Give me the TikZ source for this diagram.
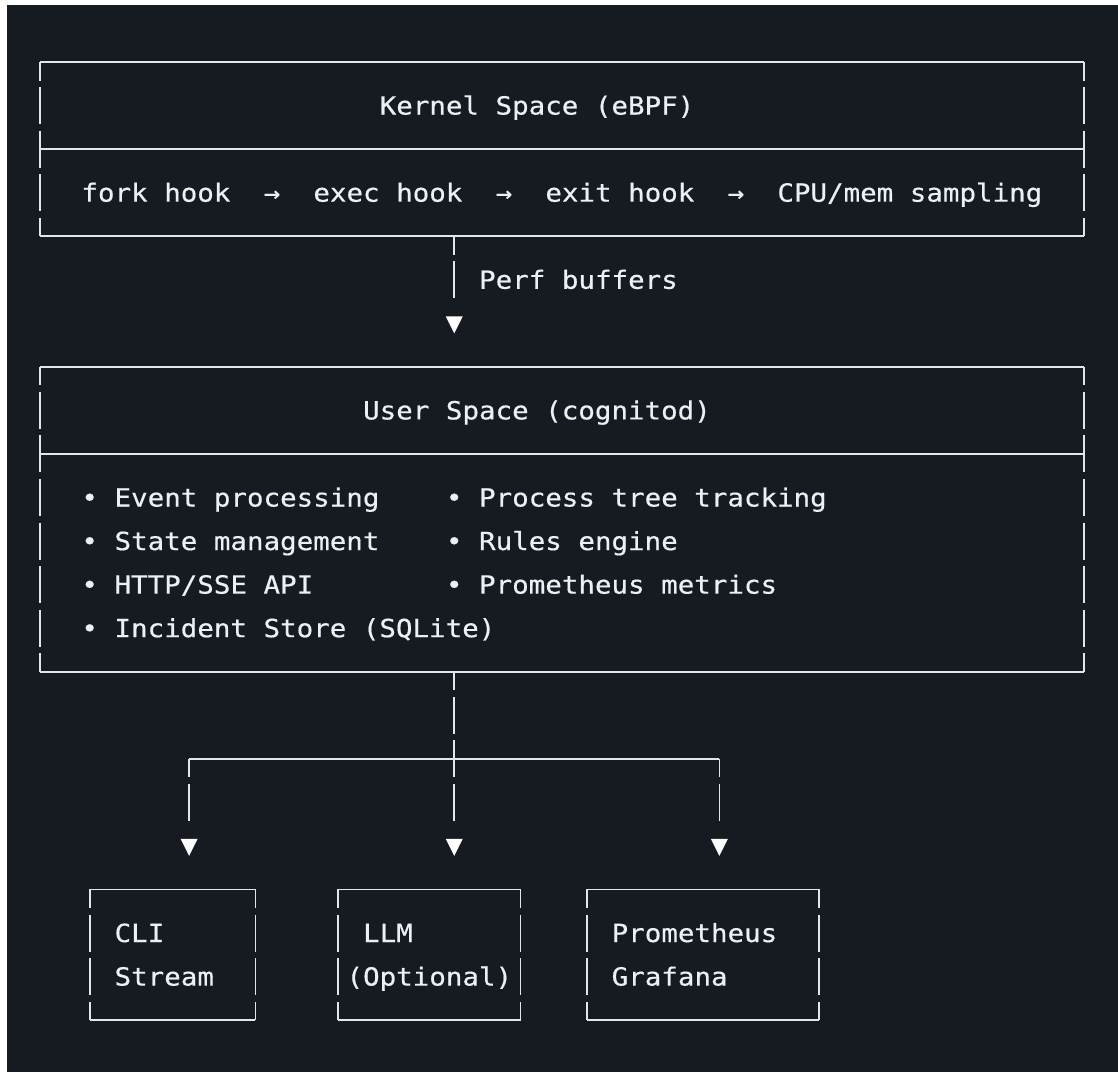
\documentclass[tikz,border=0pt]{standalone}
\usepackage{fontspec}
\newfontfamily\mono[FakeStretch=1.1,FakeBold=0.5]{DejaVu Sans Mono}
\usetikzlibrary{fit}
\definecolor{bg}{RGB}{22,27,34}
\definecolor{fg}{RGB}{225,230,235}
\definecolor{txt}{RGB}{236,240,244}
\newcommand\abox[5]{%
  \path ({cx(#2)},{ry(#3)}) coordinate (#1-nw) ({cx(#4)},{ry(#5)}) coordinate (#1-se);
  \node[boxarea, fit=(#1-nw)(#1-se)] (#1) {};
  \draw[hl] (#1.north west) -- (#1.north east);
  \draw[hl] (#1.south west) -- (#1.south east);
  \draw[vl] (#1.north west) -- (#1.south west);
  \draw[vl] (#1.north east) -- (#1.south east);
}
\begin{document}
\begin{tikzpicture}[x=1pt,y=-1pt,
  declare function={cx(\c)=40+16.57*\c; cl(\c)=31.72+16.57*\c; ry(\r)=62+43.55*\r; by(\r)=71+43.55*\r;},
  hl/.style={draw=fg, line width=1.7pt},
  vl/.style={draw=fg, line width=1.7pt, dash pattern=on 37pt off 6.55pt, dash phase=18.5pt},
  boxarea/.style={inner sep=0pt, outer sep=0pt},
  lbl/.style={anchor=base west, inner sep=0pt, outer sep=0pt, text=txt, font={\mono\fontsize{25pt}{30pt}\selectfont}},
  tip/.style={inner sep=0pt, outer sep=0pt, minimum width=17pt, minimum height=17pt,
    path picture={\fill[white] (path picture bounding box.north west) -- (path picture bounding box.north east) -- (path picture bounding box.south) -- cycle;}},
]
\fill[white] (0,0) rectangle (1118,1072);
\fill[bg] (7,5) rectangle (1118,1072);
\useasboundingbox (0,0) rectangle (1118,1072);

% Kernel space box
\abox{kernel}{0}{0}{63}{4}
\draw[hl] ({cx(0)},{ry(2)}) -- ({cx(63)},{ry(2)});
\node[lbl] (ktitle) at ({cl(21)},{by(1)}) {Kernel Space (eBPF)};
\node[lbl] (kfork) at ({cl(3)},{by(3)}) {fork hook};
\node[lbl] (ka1) at ({cl(14)},{by(3)}) {→};
\node[lbl] (kexec) at ({cl(17)},{by(3)}) {exec hook};
\node[lbl] (ka2) at ({cl(28)},{by(3)}) {→};
\node[lbl] (kexit) at ({cl(31)},{by(3)}) {exit hook};
\node[lbl] (ka3) at ({cl(42)},{by(3)}) {→};
\node[lbl] (kcpu) at ({cl(45)},{by(3)}) {CPU/mem sampling};

% arrow kernel -> user
\node[tip] (t1) at ({cx(25)},{ry(6)+1.5}) {};
\draw[vl] (kernel.south -| t1) -- ([yshift=18pt]t1.north);
\node[lbl] (perf) at ({cl(27)},{by(5)}) {Perf buffers};

% User space box
\abox{user}{0}{7}{63}{14}
\draw[hl] ({cx(0)},{ry(9)}) -- ({cx(63)},{ry(9)});
\node[lbl] (utitle) at ({cl(20)},{by(8)}) {User Space (cognitod)};
\node[lbl] (u1) at ({cl(3)},{by(10)}) {• Event processing};
\node[lbl] (u2) at ({cl(25)},{by(10)}) {• Process tree tracking};
\node[lbl] (u3) at ({cl(3)},{by(11)}) {• State management};
\node[lbl] (u4) at ({cl(25)},{by(11)}) {• Rules engine};
\node[lbl] (u5) at ({cl(3)},{by(12)}) {• HTTP/SSE API};
\node[lbl] (u6) at ({cl(25)},{by(12)}) {• Prometheus metrics};
\node[lbl] (u7) at ({cl(3)},{by(13)}) {• Incident Store (SQLite)};

% fan-out
\node[tip] (t2) at ({cx(9)},{ry(18)+1.5}) {};
\node[tip] (t3) at ({cx(25)},{ry(18)+1.5}) {};
\node[tip] (t4) at ({cx(41)},{ry(18)+1.5}) {};
\coordinate (branch) at ({cx(25)},{ry(16)});
\draw[vl] (user.south -| t3) -- ([yshift=18pt]t3.north);
\draw[hl] (branch -| t2) -- (branch -| t4);
\draw[vl] (branch -| t2) -- ([yshift=18pt]t2.north);
\draw[vl] (branch -| t4) -- ([yshift=18pt]t4.north);

% bottom boxes
\abox{cli}{3}{19}{13}{22}
\abox{llm}{18}{19}{29}{22}
\abox{prom}{33}{19}{47}{22}
\node[lbl] (cli1) at ({cl(5)},{by(20)}) {CLI};
\node[lbl] (cli2) at ({cl(5)},{by(21)}) {Stream};
\node[lbl] (llm1) at ({cl(20)},{by(20)}) {LLM};
\node[lbl] (llm2) at ({cl(19)},{by(21)}) {(Optional)};
\node[lbl] (prom1) at ({cl(35)},{by(20)}) {Prometheus};
\node[lbl] (prom2) at ({cl(35)},{by(21)}) {Grafana};
\end{tikzpicture}
\end{document}
